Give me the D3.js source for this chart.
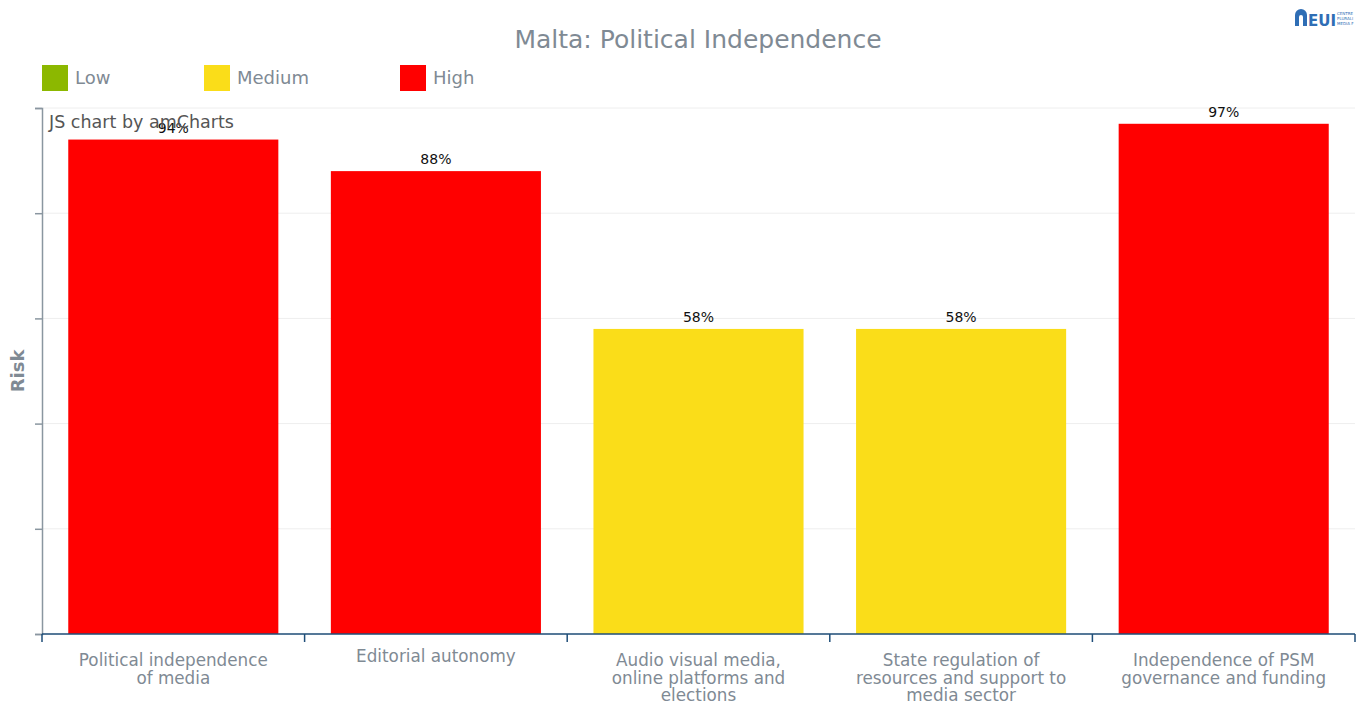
<!DOCTYPE html>
<html>
<head>
<meta charset="utf-8">
<script src="https://cdn.jsdelivr.net/npm/d3@7"></script>
<style>
  body { margin: 0; background: #fff; }
  svg text { font-family: Verdana, "DejaVu Sans", sans-serif; }
</style>
</head>
<body>
<div id="chart"></div>
<script>
// data
const categories = [
  ['Political independence', 'of media'],
  ['Editorial autonomy'],
  ['Audio visual media,', 'online platforms and', 'elections'],
  ['State regulation of', 'resources and support to', 'media sector'],
  ['Independence of PSM', 'governance and funding']
];
const values = [94, 88, 58, 58, 97];
const riskLevels = ['High', 'High', 'Medium', 'Medium', 'High'];
const legendLabels = ['Low', 'Medium', 'High'];
const yTicks = [0, 20, 40, 60, 80, 100];

const colors = {Low: '#8cb800', Medium: '#fadd19', High: '#ff0000'};
const width = 1358, height = 703;
const margin = {top: 108, right: 3, bottom: 69, left: 42};
const innerW = width - margin.left - margin.right;
const innerH = height - margin.top - margin.bottom;
const axisColor = '#1f4e79';
const textGray = '#7f8a94';

const svg = d3.select('#chart').append('svg')
  .attr('width', width)
  .attr('height', height);

// title
svg.append('text')
  .attr('x', 698).attr('y', 48)
  .attr('text-anchor', 'middle')
  .attr('font-size', 25)
  .attr('fill', textGray)
  .text('Malta: Political Independence');

// logo (top right)
const logo = svg.append('g').attr('transform', 'translate(1295, 9)');
logo.append('path')
  .attr('d', 'M0,17 V6 A6,6 0 0 1 12,6 V17 H8 V8 A2,2 0 0 0 4,8 V17 Z')
  .attr('fill', '#2f6eb5');
logo.append('text').attr('x', 13).attr('y', 17)
  .attr('font-size', 15).attr('font-weight', 'bold')
  .attr('fill', '#2f6eb5').text('EUI');
['CENTRE', 'PLURALI', 'MEDIA F'].forEach((t, i) => {
  logo.append('text').attr('x', 42).attr('y', 6 + i * 5)
    .attr('font-size', 4).attr('fill', '#2f6eb5').text(t);
});

// legend
const legend = svg.append('g').attr('class', 'legend');
const legendX = [42, 204, 400];
legendLabels.forEach((l, i) => {
  const g = legend.append('g').attr('transform', `translate(${legendX[i]}, 65)`);
  g.append('rect').attr('width', 26).attr('height', 26).attr('fill', colors[l]);
  g.append('text').attr('x', 33).attr('y', 19)
    .attr('font-size', 18).attr('fill', textGray).text(l);
});

const chart = svg.append('g')
  .attr('transform', `translate(${margin.left}, ${margin.top})`);

const xScale = d3.scaleBand()
  .domain(d3.range(categories.length))
  .range([0, innerW])
  .paddingInner(0.2)
  .paddingOuter(0.1);
const yScale = d3.scaleLinear()
  .domain([0, 100])
  .range([innerH, 0]);

// grid
chart.append('g').attr('class', 'grid')
  .selectAll('line')
  .data(yTicks)
  .join('line')
  .attr('x1', 0).attr('x2', innerW)
  .attr('y1', d => yScale(d)).attr('y2', d => yScale(d))
  .attr('stroke', '#eeeeee');

// bars
chart.selectAll('.bar')
  .data(values)
  .join('rect')
  .attr('class', 'bar')
  .attr('x', (d, i) => xScale(i))
  .attr('y', d => yScale(d))
  .attr('width', xScale.bandwidth())
  .attr('height', d => innerH - yScale(d))
  .attr('fill', (d, i) => colors[riskLevels[i]]);

// value labels
chart.selectAll('.val')
  .data(values)
  .join('text')
  .attr('class', 'val')
  .attr('x', (d, i) => xScale(i) + xScale.bandwidth() / 2)
  .attr('y', d => yScale(d) - 7)
  .attr('text-anchor', 'middle')
  .attr('font-size', 14)
  .attr('fill', '#111')
  .text(d => d + '%');

// y axis (no labels)
const yAxis = chart.append('g').attr('class', 'axis axis-y')
  .call(d3.axisLeft(yScale).tickValues(yTicks).tickSize(7).tickFormat(''));
yAxis.select('.domain').attr('stroke', '#8a96a0').attr('stroke-width', 1.5);
yAxis.selectAll('.tick line').attr('stroke', '#8a96a0').attr('stroke-width', 1.5);

// x axis: ticks at category boundaries
const boundaries = d3.range(categories.length + 1).map(i => i * xScale.step());
const xAxis = chart.append('g').attr('class', 'axis axis-x')
  .attr('transform', `translate(0, ${innerH})`);
xAxis.append('line')
  .attr('x1', 0).attr('x2', innerW)
  .attr('stroke', axisColor).attr('stroke-width', 1.5);
xAxis.selectAll('.tick')
  .data(boundaries)
  .join('line')
  .attr('class', 'tick')
  .attr('x1', d => d).attr('x2', d => d)
  .attr('y1', 0).attr('y2', 8)
  .attr('stroke', axisColor).attr('stroke-width', 1.5);

const labels = xAxis.selectAll('.cat')
  .data(categories)
  .join('text')
  .attr('class', 'cat')
  .attr('text-anchor', 'middle')
  .attr('font-size', 16.8)
  .attr('fill', textGray)
  .attr('transform', (d, i) => `translate(${xScale(i) + xScale.bandwidth() / 2}, ${d.length === 1 ? 28 : 32})`);
labels.selectAll('tspan')
  .data(d => d)
  .join('tspan')
  .attr('x', 0)
  .attr('dy', (d, i) => i === 0 ? 0 : 17.5)
  .text(d => d);

// y axis title
svg.append('text')
  .attr('transform', 'translate(24, 371) rotate(-90)')
  .attr('text-anchor', 'middle')
  .attr('font-size', 18)
  .attr('font-weight', 'bold')
  .attr('fill', textGray)
  .text('Risk');

// credit
svg.append('text')
  .attr('x', 49).attr('y', 128)
  .attr('font-size', 17.5)
  .attr('fill', '#555')
  .text('JS chart by amCharts');
</script>
</body>
</html>
